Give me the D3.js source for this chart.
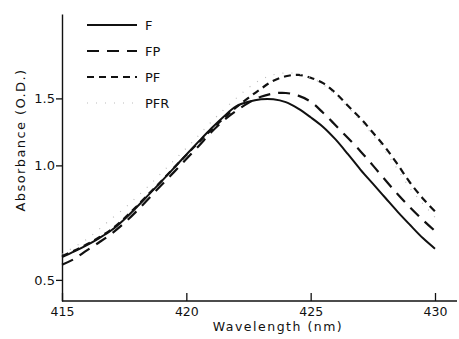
<!DOCTYPE html>
<html>
<head>
<meta charset="utf-8">
<script src="https://cdn.jsdelivr.net/npm/d3@7"></script>
<style>
  html, body { margin: 0; padding: 0; background: #fff; }
  svg { display: block; }
  text { font-family: "DejaVu Sans", sans-serif; fill: #111; }
</style>
</head>
<body>
<script>
// Absorbance spectra of the four preparations (log absorbance axis)
const wavelengths = [415, 415.5, 416, 416.5, 417, 417.5, 418, 418.5, 419, 419.5,
                     420, 420.5, 421, 421.5, 422, 422.5, 423, 423.5, 424, 424.5,
                     425, 425.5, 426, 426.5, 427, 427.5, 428, 428.5, 429, 429.5, 430];

const seriesF   = [0.574, 0.594, 0.617, 0.644, 0.676, 0.721, 0.776, 0.839, 0.908, 0.984,
                   1.067, 1.156, 1.25, 1.343, 1.429, 1.47, 1.492, 1.492, 1.466, 1.41,
                   1.338, 1.262, 1.17, 1.07, 0.975, 0.895, 0.822, 0.755, 0.697, 0.645, 0.604];
const seriesFP  = [0.548, 0.568, 0.598, 0.628, 0.662, 0.705, 0.758, 0.82, 0.888, 0.96,
                   1.04, 1.125, 1.222, 1.312, 1.39, 1.46, 1.515, 1.545, 1.55, 1.525,
                   1.47, 1.375, 1.275, 1.18, 1.09, 1.0, 0.915, 0.84, 0.775, 0.72, 0.672];
const seriesPF  = [0.578, 0.597, 0.62, 0.647, 0.68, 0.725, 0.78, 0.843, 0.91, 0.985,
                   1.065, 1.15, 1.24, 1.33, 1.42, 1.505, 1.59, 1.67, 1.715, 1.73,
                   1.70, 1.645, 1.55, 1.435, 1.33, 1.22, 1.115, 1.005, 0.90, 0.82, 0.757];
const seriesPFR = [0.585, 0.61, 0.64, 0.68, 0.725, 0.77, 0.825, 0.885, 0.955, 1.03,
                   1.11, 1.2, 1.3, 1.4, 1.5, 1.6, 1.68, 1.73, 1.75, 1.74,
                   1.70, 1.63, 1.53, 1.42, 1.31, 1.2, 1.09, 0.975, 0.87, 0.795, 0.73];

const seriesNames = ["F", "FP", "PF", "PFR"];
const xTicks = [415, 420, 425, 430];
const yTicks = [0.5, 1.0, 1.5];

const W = 459, H = 339;
const svg = d3.select("body").append("svg").attr("width", W).attr("height", H);

const x = d3.scaleLinear().domain([415, 430]).range([62, 435]);
const y = d3.scaleLog().domain([0.44, 2.5]).range([301, 14]);

// line styles per series
const styles = {
  F:   { color: "#111", width: 2,   dash: null },
  FP:  { color: "#111", width: 2.2, dash: "12,8" },
  PF:  { color: "#111", width: 2.2, dash: "7,5" },
  PFR: { color: "#bbb", width: 1.2, dash: "1,8" }
};

const data = [seriesF, seriesFP, seriesPF, seriesPFR].map((vals, i) => ({
  name: seriesNames[i],
  points: wavelengths.map((w, j) => [w, vals[j]])
}));

// axes
const xAxis = d3.axisBottom(x).tickValues(xTicks).tickFormat(d3.format("d"))
  .tickSizeInner(-8).tickSizeOuter(0).tickPadding(6);
const gx = svg.append("g").attr("transform", "translate(0,301)").call(xAxis);
gx.select(".domain").remove();
gx.append("line").attr("x1", 62).attr("x2", 457).attr("y1", 0).attr("y2", 0)
  .attr("stroke", "#111").attr("stroke-width", 1.4);
gx.selectAll(".tick line").attr("stroke", "#111").attr("stroke-width", 1.3);
gx.selectAll(".tick text").attr("font-size", 12.5).attr("fill", "#111")
  .style("font-family", "'DejaVu Sans', sans-serif");

const yAxis = d3.axisLeft(y).tickValues(yTicks).tickFormat(d3.format(".1f"))
  .tickSizeInner(6).tickSizeOuter(0).tickPadding(1);
const gy = svg.append("g").attr("transform", "translate(62,0)").call(yAxis);
gy.select(".domain").attr("stroke", "#111").attr("stroke-width", 1.4);
gy.selectAll(".tick line").attr("stroke", "#111").attr("stroke-width", 1.3);
gy.selectAll(".tick text").attr("font-size", 13).attr("fill", "#111")
  .style("font-family", "'DejaVu Sans', sans-serif");

// axis titles
svg.append("text")
  .attr("x", 278).attr("y", 331)
  .attr("text-anchor", "middle")
  .attr("font-size", 12.5)
  .attr("letter-spacing", 1.5)
  .text("Wavelength (nm)");

svg.append("text")
  .attr("transform", "translate(25,140) rotate(-90)")
  .attr("text-anchor", "middle")
  .attr("font-size", 13)
  .attr("letter-spacing", 1.4)
  .text("Absorbance (O.D.)");

// spectra
const line = d3.line()
  .x(d => x(d[0]))
  .y(d => y(d[1]))
  .curve(d3.curveCatmullRom.alpha(0.5));

svg.append("g").selectAll("path")
  .data(data)
  .join("path")
  .attr("d", d => line(d.points))
  .attr("fill", "none")
  .attr("stroke", d => styles[d.name].color)
  .attr("stroke-width", d => styles[d.name].width)
  .attr("stroke-dasharray", d => styles[d.name].dash)
  .attr("stroke-linecap", "butt");

// legend
const legendRows = [25, 51, 77, 103];
const lg = svg.append("g");
seriesNames.forEach((name, i) => {
  const s = styles[name];
  lg.append("line")
    .attr("x1", 87).attr("x2", 137)
    .attr("y1", legendRows[i]).attr("y2", legendRows[i])
    .attr("stroke", s.color)
    .attr("stroke-width", s.width)
    .attr("stroke-dasharray", s.dash);
  lg.append("text")
    .attr("x", 145).attr("y", legendRows[i] + 5)
    .attr("font-size", 13)
    .text(name);
});
</script>
</body>
</html>
